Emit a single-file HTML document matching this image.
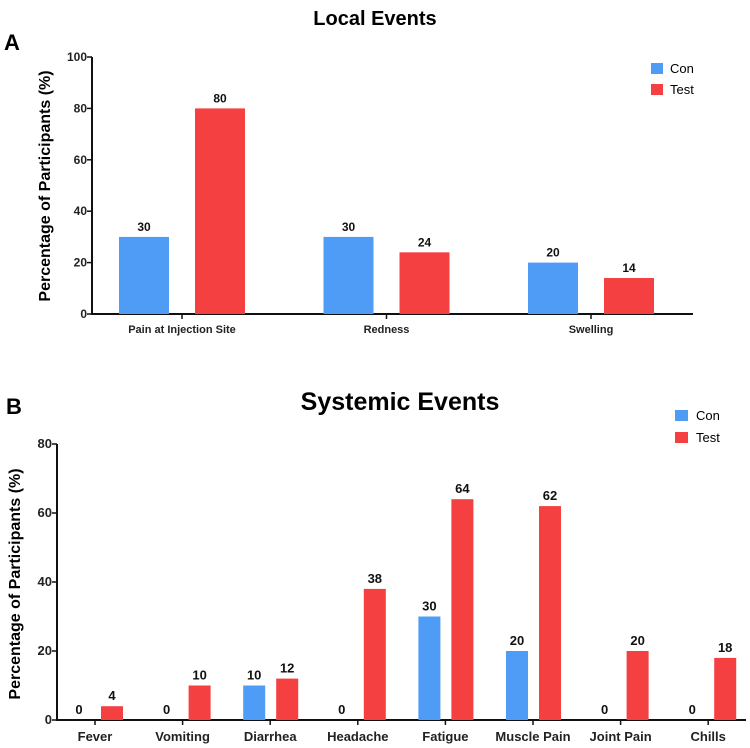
<!DOCTYPE html>
<html><head><meta charset="utf-8"><style>
body{margin:0;background:#fff;}
svg{display:block;font-family:"Liberation Sans",Arial,sans-serif;}
</style></head><body>
<svg id="c" width="750" height="748" viewBox="0 0 750 748" xmlns="http://www.w3.org/2000/svg">
<text x="375" y="25" font-size="20" font-weight="bold" text-anchor="middle">Local Events</text>
<text x="4" y="50" font-size="22" font-weight="bold">A</text>
<text x="400" y="410" font-size="25" font-weight="bold" text-anchor="middle">Systemic Events</text>
<text x="6" y="414" font-size="22" font-weight="bold">B</text>
<text transform="translate(50,186) rotate(-90)" font-size="16" font-weight="bold" text-anchor="middle">Percentage of Participants (%)</text>
<text transform="translate(20,584) rotate(-90)" font-size="16" font-weight="bold" text-anchor="middle">Percentage of Participants (%)</text>
<g>
<rect x="651" y="63" width="12" height="11" fill="#4f9cf7"/>
<text x="670" y="73" font-size="13">Con</text>
<rect x="651" y="84" width="12" height="11" fill="#f44040"/>
<text x="670" y="94" font-size="13">Test</text>
</g>
<g>
<rect x="675" y="410" width="13" height="11" fill="#4f9cf7"/>
<text x="696" y="420" font-size="13">Con</text>
<rect x="675" y="432" width="13" height="11" fill="#f44040"/>
<text x="696" y="442" font-size="13">Test</text>
</g>
</svg>
<script>
const catsA=["Pain at Injection Site","Redness","Swelling"];
const conA=[30,30,20];
const testA=[80,24,14];
const ticksA=[0,20,40,60,80,100];
const catsB=["Fever","Vomiting","Diarrhea","Headache","Fatigue","Muscle Pain","Joint Pain","Chills"];
const conB=[0,0,10,0,30,20,0,0];
const testB=[4,10,12,38,64,62,20,18];
const ticksB=[0,20,40,60,80];
const svg=document.getElementById('c');
const NS='http://www.w3.org/2000/svg';
function mk(t,a,txt){const e=document.createElementNS(NS,t);for(const k in a)e.setAttribute(k,a[k]);if(txt!==undefined)e.textContent=txt;svg.appendChild(e);return e;}
function chart(o){
  const y=v=>o.y0-(v-o.vmin)/(o.vmax-o.vmin)*(o.y0-o.y1);
  const x=i=>o.xc0+i*o.step;
  let ax=mk('line',{x1:o.ax,y1:o.y1,x2:o.ax,y2:o.y0+1,stroke:'#111','stroke-width':2});
  
  let bx=mk('line',{x1:o.ax,y1:o.y0,x2:o.xend,y2:o.y0,stroke:'#111','stroke-width':2});
  
  o.ticks.forEach(t=>{
    let l=mk('line',{x1:o.ax-5,y1:y(t),x2:o.ax,y2:y(t),stroke:'#111','stroke-width':1.5});
    
    let tx=mk('text',{x:o.ax-5,y:y(t)+4,'font-size':o.tfs,'font-weight':'bold','text-anchor':'end',fill:'#222'},String(t));
    
  });
  o.cats.forEach((c,i)=>{
    const cx=x(i);
    let l=mk('line',{x1:cx,y1:o.y0,x2:cx,y2:o.y0+5,stroke:'#111','stroke-width':1.5});
    
    let tx=mk('text',{x:cx,y:o.y0+o.lblOff,'font-size':o.lfs,'font-weight':'bold','text-anchor':'middle',fill:'#222'},c);
    
    [[o.con[i],o.conOff,'#4f9cf7','con'],[o.test[i],o.testOff,'#f44040','test']].forEach(([v,off,col,nm])=>{
      const bx0=cx+off;
      if(v>0){
        let r=mk('rect',{x:bx0,y:y(v),width:o.bw,height:o.y0-y(v),fill:col});
        
      }
      let t=mk('text',{x:bx0+o.bw/2,y:y(v)-6,'font-size':o.vfs,'font-weight':'bold','text-anchor':'middle',fill:'#111'},String(v));
      
    });
  });
}
chart({cats:catsA,con:conA,test:testA,ticks:ticksA,vmin:0,vmax:100,ax:92,y0:314,y1:57,xend:693,xc0:182,step:204.5,bw:50,conOff:-63,testOff:13,tfs:12,lfs:11,vfs:12,lblOff:19});
chart({cats:catsB,con:conB,test:testB,ticks:ticksB,vmin:0,vmax:80,ax:57,y0:720,y1:444,xend:746,xc0:95,step:87.6,bw:22,conOff:-27,testOff:6,tfs:13,lfs:13,vfs:13,lblOff:21});
</script>
</body></html>
